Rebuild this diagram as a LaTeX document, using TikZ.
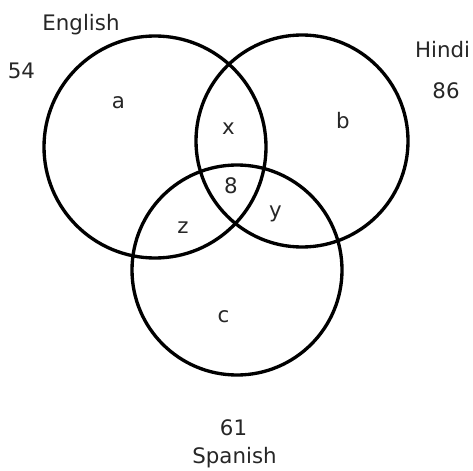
\documentclass[tikz,border=0pt]{standalone}
\usepackage{fontspec}
\setmainfont{DejaVu Sans}
\begin{document}
\begin{tikzpicture}[x=0.75pt,y=-0.75pt,line width=2.5pt,
  lbl/.style={anchor=base,inner sep=0pt,text=black!85,font=\fontsize{16}{19}\selectfont}]
\useasboundingbox (0,0) rectangle (473,470);
% the three sets
\draw (155,147) circle (111);
\draw (302,141) circle (106);
\draw (237,270) circle (105);
% set names and totals
\node[lbl] (english) at (81,31) {English};
\node[lbl] (englishtot) at (21.5,79) {54};
\node[lbl] (hindi) at (442.5,58) {Hindi};
\node[lbl] (hinditot) at (446,99) {86};
\node[lbl] (spanishtot) at (233.5,435) {61};
\node[lbl] (spanish) at (234.5,463) {Spanish};
% regions
\node[lbl] (ra) at (118.5,109) {a};
\node[lbl] (rb) at (343,129) {b};
\node[lbl] (rc) at (223.5,322) {c};
\node[lbl] (rx) at (228.5,135) {x};
\node[lbl] (ry) at (275.5,217) {y};
\node[lbl] (rz) at (183,233) {z};
\node[lbl] (rall) at (231,193) {8};
\end{tikzpicture}
\end{document}
